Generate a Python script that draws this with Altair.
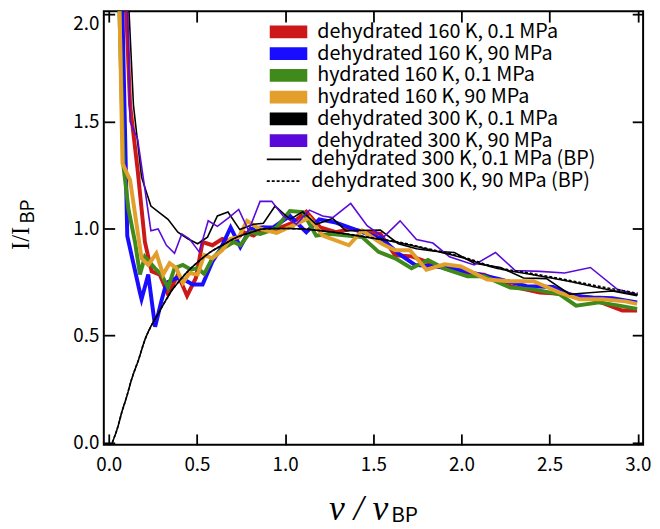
import altair as alt
import pandas as pd

# ---------------- data ----------------
S_NAMES = [
    "dehydrated 160 K, 0.1 MPa",
    "dehydrated 160 K, 90 MPa",
    "hydrated 160 K, 0.1 MPa",
    "hydrated 160 K, 90 MPa",
    "dehydrated 300 K, 0.1 MPa",
    "dehydrated 300 K, 90 MPa",
]
S_COLORS = ["#cc1818", "#1a0dff", "#3f8a1a", "#e39f2b", "#000000", "#5a0ad8"]
BP_NAMES = ["dehydrated 300 K, 0.1 MPa (BP)", "dehydrated 300 K, 90 MPa (BP)"]

red_x = [0.075, 0.121, 0.164, 0.205, 0.243, 0.289, 0.336, 0.392, 0.444, 0.494, 0.532, 0.588,
         0.644, 0.709, 0.765, 0.821, 0.877, 0.952, 1.045, 1.120, 1.200, 1.288, 1.372, 1.450,
         1.540, 1.624, 1.717, 1.800, 1.900, 1.997, 2.128, 2.277, 2.445, 2.613, 2.744, 2.912, 2.996]
red_y = [2.50, 1.577, 1.272, 0.937, 0.800, 0.785, 0.693, 0.785, 0.686, 0.769, 0.937, 0.922,
         0.952, 0.937, 0.983, 0.967, 1.005, 0.998, 1.028, 1.078, 1.005, 0.983, 0.998, 0.985,
         0.975, 0.875, 0.870, 0.845, 0.815, 0.792, 0.785, 0.731, 0.701, 0.693, 0.670, 0.617, 0.617]

blue_x = [0.065, 0.105, 0.177, 0.186, 0.224, 0.263, 0.299, 0.327, 0.383, 0.430, 0.476, 0.532,
          0.588, 0.635, 0.691, 0.746, 0.802, 0.868, 0.933, 1.027, 1.120, 1.194, 1.288, 1.437,
          1.549, 1.642, 1.736, 1.848, 1.960, 2.072, 2.221, 2.370, 2.520, 2.632, 2.744, 2.856, 2.996]
blue_y = [2.50, 0.965, 0.700, 0.670, 0.785, 0.541, 0.663, 0.746, 0.769, 0.760, 0.739, 0.739,
          0.846, 0.906, 1.005, 0.914, 0.998, 1.005, 1.005, 1.059, 0.983, 1.043, 1.028, 0.983,
          0.952, 0.884, 0.830, 0.823, 0.812, 0.792, 0.762, 0.731, 0.727, 0.686, 0.678, 0.675, 0.655]

green_x = [0.045, 0.084, 0.112, 0.149, 0.177, 0.205, 0.261, 0.299, 0.336, 0.373, 0.420, 0.467,
           0.504, 0.541, 0.588, 0.644, 0.709, 0.746, 0.802, 0.858, 0.915, 0.952, 1.027, 1.101,
           1.176, 1.250, 1.437, 1.530, 1.624, 1.717, 1.810, 1.904, 2.034, 2.128, 2.277, 2.408,
           2.557, 2.650, 2.781, 2.893, 2.996]
green_y = [2.50, 1.288, 1.089, 0.937, 0.785, 0.868, 0.815, 0.785, 0.724, 0.815, 0.830, 0.808,
           0.815, 0.788, 0.861, 0.906, 0.937, 0.922, 0.983, 0.975, 0.990, 1.005, 1.082, 1.077,
           0.967, 0.975, 0.960, 0.891, 0.861, 0.815, 0.853, 0.812, 0.777, 0.777, 0.724, 0.716,
           0.693, 0.640, 0.655, 0.640, 0.625]

orange_x = [0.050, 0.078, 0.121, 0.186, 0.224, 0.270, 0.308, 0.345, 0.383, 0.420, 0.457, 0.504,
            0.541, 0.588, 0.644, 0.691, 0.737, 0.784, 0.840, 0.896, 0.952, 1.060, 1.138, 1.213,
            1.362, 1.437, 1.549, 1.624, 1.708, 1.801, 1.904, 1.997, 2.146, 2.277, 2.408, 2.557,
            2.669, 2.800, 2.930, 2.996]
orange_y = [2.50, 1.303, 1.226, 0.861, 0.830, 0.884, 0.785, 0.838, 0.815, 0.746, 0.792, 0.785,
            0.876, 0.861, 0.899, 0.952, 0.960, 1.036, 1.005, 0.990, 0.980, 1.020, 1.051, 0.967,
            0.922, 0.990, 0.929, 0.899, 0.899, 0.808, 0.833, 0.823, 0.762, 0.754, 0.754, 0.701,
            0.670, 0.670, 0.660, 0.648]

black_x = [0.090, 0.140, 0.186, 0.239, 0.336, 0.392, 0.448, 0.504, 0.560, 0.616, 0.676, 0.743,
           0.821, 0.877, 0.943, 1.027, 1.100, 1.176, 1.270, 1.344, 1.540, 1.642, 1.745, 1.848,
           1.960, 2.072, 2.221, 2.352, 2.482, 2.613, 2.744, 2.856, 2.996]
black_y = [2.45, 1.577, 1.240, 1.105, 1.043, 0.983, 0.952, 0.929, 0.960, 1.059, 1.077, 0.995,
           1.020, 1.025, 1.105, 1.043, 1.078, 1.020, 1.047, 0.990, 0.993, 0.929, 0.906, 0.894,
           0.888, 0.838, 0.818, 0.769, 0.766, 0.693, 0.701, 0.708, 0.686]

purple_x = [0.095, 0.121, 0.164, 0.239, 0.280, 0.327, 0.373, 0.414, 0.457, 0.513, 0.564, 0.616,
            0.681, 0.737, 0.793, 0.858, 0.924, 0.989, 1.064, 1.138, 1.213, 1.270, 1.372, 1.465,
            1.558, 1.652, 1.745, 1.838, 1.932, 2.072, 2.193, 2.305, 2.445, 2.585, 2.731, 2.884, 2.996]
purple_y = [2.45, 1.500, 1.417, 0.990, 0.998, 0.922, 0.884, 0.975, 0.952, 0.891, 1.036, 1.010,
            1.051, 1.089, 0.990, 1.127, 1.127, 1.059, 1.020, 1.086, 1.059, 1.051, 1.117, 1.013,
            0.960, 1.036, 0.949, 0.932, 0.868, 0.830, 0.888, 0.804, 0.800, 0.792, 0.818, 0.716, 0.693]

bp1_x = [0.02, 0.05, 0.075, 0.10, 0.13, 0.17, 0.205, 0.25, 0.28, 0.32, 0.355, 0.40, 0.448, 0.50,
         0.578, 0.65, 0.728, 0.80, 0.877, 0.95, 1.00, 1.10, 1.20, 1.30, 1.456, 1.624, 1.80, 2.016,
         2.184, 2.40, 2.60, 2.80, 3.00]
bp1_y = [0.00, 0.07, 0.145, 0.21, 0.297, 0.39, 0.48, 0.56, 0.602, 0.66, 0.708, 0.755, 0.80, 0.84,
         0.891, 0.925, 0.96, 0.98, 0.998, 1.00, 1.00, 0.998, 0.99, 0.98, 0.96, 0.937, 0.905, 0.861,
         0.818, 0.785, 0.755, 0.72, 0.69]
bp2_x = [0.02, 0.05, 0.075, 0.10, 0.13, 0.17, 0.205, 0.25, 0.28, 0.32, 0.355, 0.40, 0.448, 0.50,
         0.578, 0.65, 0.728, 0.80, 0.877, 0.95, 1.00, 1.10, 1.20, 1.30, 1.456, 1.624, 1.80, 2.016,
         2.184, 2.40, 2.60, 2.80, 3.00]
bp2_y = [0.00, 0.07, 0.145, 0.21, 0.297, 0.39, 0.48, 0.56, 0.602, 0.66, 0.708, 0.755, 0.80, 0.84,
         0.891, 0.925, 0.96, 0.98, 0.998, 1.00, 1.00, 0.998, 0.99, 0.98, 0.962, 0.940, 0.908, 0.865,
         0.822, 0.790, 0.760, 0.727, 0.698]

X_TICKS = [0.0, 0.5, 1.0, 1.5, 2.0, 2.5, 3.0]
Y_TICKS = [0.0, 0.5, 1.0, 1.5, 2.0]


def frame(name, xs, ys):
    return pd.DataFrame({"nu": xs, "I": ys, "series": name})


thick_df = pd.concat([frame(S_NAMES[0], red_x, red_y), frame(S_NAMES[1], blue_x, blue_y),
                      frame(S_NAMES[2], green_x, green_y), frame(S_NAMES[3], orange_x, orange_y)])
thin_df = pd.concat([frame(S_NAMES[4], black_x, black_y), frame(S_NAMES[5], purple_x, purple_y)])
bp_df = pd.concat([frame(BP_NAMES[0], bp1_x, bp1_y), frame(BP_NAMES[1], bp2_x, bp2_y)])
one = pd.DataFrame({"k": [0]})

FONT = "Noto Sans CJK JP"
XS = alt.Scale(domain=[-0.028, 3.03], nice=False, zero=False)
YS = alt.Scale(domain=[-0.01, 2.015], nice=False, zero=False)


def axis(orient, labels=True):
    extra = {}
    if orient == "left":
        extra["labelBaseline"] = {"condition": {"test": "datum.value >= 2", "value": "top"},
                                  "value": "middle"}
    return alt.Axis(orient=orient, values=X_TICKS if orient in ("bottom", "top") else Y_TICKS,
                    format=".1f", tickSize=11, offset=-11, domain=False, grid=False,
                    labels=labels, tickColor="black", tickWidth=1.8,
                    labelFont=FONT, labelFontSize=19, labelColor="black",
                    labelPadding=11 if orient == "bottom" else 5, **extra)


color_legend = alt.Legend(title=None, orient="none", legendX=161.5, legendY=10,
                          symbolType="stroke", symbolSize=1444, symbolStrokeWidth=13,
                          symbolOpacity=1,
                          clipHeight=22, rowPadding=0, padding=0, labelOffset=3.5, labelLimit=400,
                          labelFont=FONT, labelFontSize=20, labelColor="black")
bp_legend = alt.Legend(title=None, orient="none", legendX=164, legendY=139,
                       symbolType="stroke", symbolSize=1225, symbolStrokeWidth=1.6,
                       symbolStrokeColor="black",
                       clipHeight=22, rowPadding=0, padding=0, labelOffset=9, labelLimit=400,
                       labelFont=FONT, labelFontSize=20, labelColor="black")

color_enc = alt.Color("series:N", scale=alt.Scale(domain=S_NAMES, range=S_COLORS),
                      legend=color_legend)

thick = alt.Chart(thick_df).mark_line(strokeWidth=4, clip=True).encode(
    x=alt.X("nu:Q", scale=XS, axis=axis("bottom"), title=None),
    y=alt.Y("I:Q", scale=YS, axis=axis("left"), title=None),
    color=color_enc,
)
thin = alt.Chart(thin_df).mark_line(strokeWidth=1.6, clip=True).encode(
    x=alt.X("nu:Q", scale=XS, axis=None),
    y=alt.Y("I:Q", scale=YS, axis=None),
    color=color_enc,
)
bp = alt.Chart(bp_df).mark_line(color="black", strokeWidth=1.6, interpolate="monotone",
                                clip=True).encode(
    x=alt.X("nu:Q", scale=XS, axis=None),
    y=alt.Y("I:Q", scale=YS, axis=None),
    strokeDash=alt.StrokeDash("series:N",
                              scale=alt.Scale(domain=BP_NAMES, range=[[1, 0], [3, 2]]),
                              legend=bp_legend),
)
mirror = alt.Chart(bp_df).mark_line(opacity=0).encode(
    x=alt.X("nu:Q", scale=XS, axis=axis("top", labels=False), title=None),
    y=alt.Y("I:Q", scale=YS, axis=axis("right", labels=False), title=None),
)

ytitle1 = alt.Chart(one).mark_text(font="Liberation Serif", fontSize=25, angle=270,
                                   align="center", baseline="middle", color="black").encode(
    x=alt.value(-84), y=alt.value(230), text=alt.value("I/I"))
ytitle2 = alt.Chart(one).mark_text(font=FONT, fontSize=19, angle=270,
                                   align="center", baseline="middle", color="black").encode(
    x=alt.value(-77), y=alt.value(203), text=alt.value("BP"))
xtitle1 = alt.Chart(one).mark_text(font="Liberation Serif", fontStyle="italic", fontSize=36,
                                   align="left", baseline="alphabetic", color="black").encode(
    x=alt.value(228), y=alt.value(515), text=alt.value("ν / ν"))
xtitle2 = alt.Chart(one).mark_text(font=FONT, fontSize=21,
                                   align="left", baseline="alphabetic", color="black").encode(
    x=alt.value(291), y=alt.value(517), text=alt.value("BP"))

chart = alt.layer(thick, thin, bp, mirror, ytitle1, ytitle2, xtitle1, xtitle2).resolve_axis(
    x="independent", y="independent"
).properties(
    width=546, height=439,
    autosize=alt.AutoSizeParams(type="none"),
    padding={"left": 97, "top": 0, "right": 9, "bottom": 82},
).configure_view(stroke="black", strokeWidth=2)

chart.save("out.html", embed_options={"renderer": "svg", "actions": False})
